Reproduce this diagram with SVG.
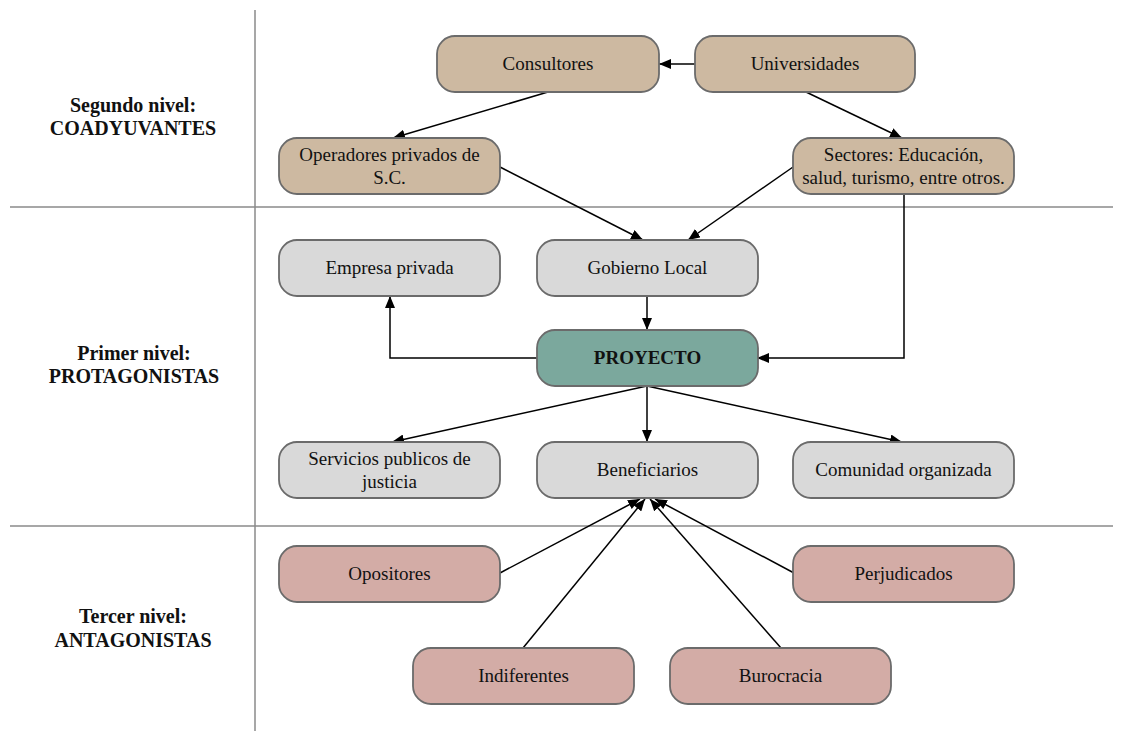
<svg xmlns="http://www.w3.org/2000/svg" width="1123" height="731" viewBox="0 0 1123 731">
<style>
.sep{stroke:#8a8a8a;stroke-width:1.5;fill:none}
.n rect{stroke:#6b6b6b;stroke-width:1.8}
.tan rect{fill:#cdb9a1}
.gray rect{fill:#d9d9d9}
.teal rect{fill:#7ba89d}
.red rect{fill:#d3aca6}
.n text{font-family:"Liberation Serif","Times New Roman",serif;font-size:19px;fill:#111;text-anchor:middle}
.lbl{font-family:"Liberation Serif","Times New Roman",serif;font-size:20px;font-weight:bold;fill:#111;text-anchor:middle}
.e path{stroke:#000;stroke-width:1.5;fill:none;marker-end:url(#ah)}
</style>
<defs>
<marker id="ah" viewBox="0 0 12 10" refX="12" refY="5" markerWidth="12" markerHeight="10" markerUnits="userSpaceOnUse" orient="auto">
<path d="M0,0 L12,5 L0,10 z" fill="#000"/>
</marker>
</defs>
<rect width="1123" height="731" fill="#fff"/>
<g id="separators">
<line class="sep" x1="255" y1="10" x2="255" y2="731"/>
<line class="sep" x1="10" y1="207" x2="1113" y2="207"/>
<line class="sep" x1="10" y1="526" x2="1113" y2="526"/>
</g>
<g id="labels">
<text class="lbl" x="133" y="112">Segundo nivel:</text>
<text class="lbl" x="133" y="135">COADYUVANTES</text>
<text class="lbl" x="134" y="360">Primer nivel:</text>
<text class="lbl" x="134" y="383">PROTAGONISTAS</text>
<text class="lbl" x="133" y="623">Tercer nivel:</text>
<text class="lbl" x="133" y="647">ANTAGONISTAS</text>
</g>
<g id="connectors" class="e">
<path d="M695,64 L659,64"/>
<path d="M548,92 L393,138"/>
<path d="M806,92 L902,138"/>
<path d="M500,167 L643,240"/>
<path d="M793,167 L688,240"/>
<path d="M904,194 V358 H757"/>
<path d="M647,296 V330"/>
<path d="M537,358 H390 V296"/>
<path d="M647,386 L392,442"/>
<path d="M647,386 V442"/>
<path d="M647,386 L902,442"/>
<path d="M500,573 L640,499"/>
<path d="M523,648 L645,499"/>
<path d="M781,648 L650,499"/>
<path d="M794,573 L655,499"/>
</g>
<g id="consultores" class="n tan"><rect x="437" y="36" width="222" height="56" rx="18"/><text x="548" y="70">Consultores</text></g>
<g id="universidades" class="n tan"><rect x="695" y="36" width="220" height="56" rx="18"/><text x="805" y="70">Universidades</text></g>
<g id="operadores" class="n tan"><rect x="279" y="138" width="221" height="56" rx="18"/><text x="389.5" y="161">Operadores privados de</text><text x="389.5" y="184">S.C.</text></g>
<g id="sectores" class="n tan"><rect x="793" y="138" width="221" height="56" rx="18"/><text x="903.5" y="161">Sectores: Educación,</text><text x="903.5" y="184">salud, turismo, entre otros.</text></g>
<g id="empresa" class="n gray"><rect x="279" y="240" width="221" height="56" rx="18"/><text x="389.5" y="274">Empresa privada</text></g>
<g id="gobierno" class="n gray"><rect x="537" y="240" width="221" height="56" rx="18"/><text x="647.5" y="274">Gobierno Local</text></g>
<g id="proyecto" class="n teal"><rect x="537" y="330" width="221" height="56" rx="18"/><text x="647.5" y="364" font-weight="bold">PROYECTO</text></g>
<g id="servicios" class="n gray"><rect x="279" y="442" width="221" height="56" rx="18"/><text x="389.5" y="465">Servicios publicos de</text><text x="389.5" y="488">justicia</text></g>
<g id="beneficiarios" class="n gray"><rect x="537" y="442" width="221" height="56" rx="18"/><text x="647.5" y="476">Beneficiarios</text></g>
<g id="comunidad" class="n gray"><rect x="793" y="442" width="221" height="56" rx="18"/><text x="903.5" y="476">Comunidad organizada</text></g>
<g id="opositores" class="n red"><rect x="279" y="546" width="221" height="56" rx="18"/><text x="389.5" y="580">Opositores</text></g>
<g id="perjudicados" class="n red"><rect x="793" y="546" width="221" height="56" rx="18"/><text x="903.5" y="580">Perjudicados</text></g>
<g id="indiferentes" class="n red"><rect x="413" y="648" width="221" height="56" rx="18"/><text x="523.5" y="682">Indiferentes</text></g>
<g id="burocracia" class="n red"><rect x="670" y="648" width="221" height="56" rx="18"/><text x="780.5" y="682">Burocracia</text></g>
</svg>
